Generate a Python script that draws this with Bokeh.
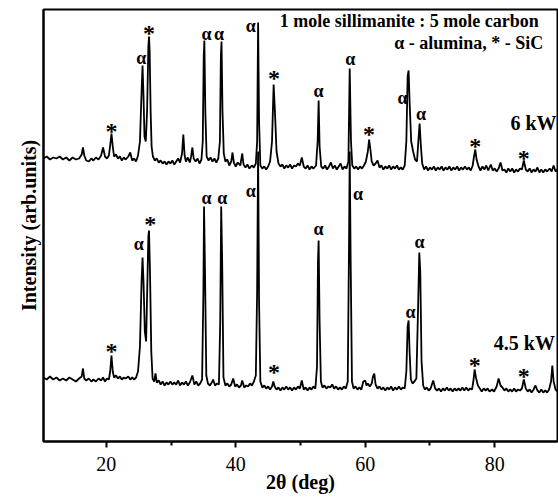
from bokeh.plotting import figure
from bokeh.models import Range1d, FixedTicker, Label, ColumnDataSource
from bokeh.core.properties import value
from bokeh.embed import file_html
from bokeh.resources import INLINE

# ---- data: (2theta deg, intensity arb. units) ----
trace_6kw = [
    (10.3, 283), (10.8, 285), (11.3, 282), (11.8, 284), (12.3, 283), (12.8, 285), (13.3, 282),
    (13.8, 284), (14.3, 281), (14.8, 284), (15.3, 282), (15.8, 283), (16.2, 287), (16.4, 294),
    (16.6, 286), (16.9, 281), (17.3, 280), (17.7, 283), (18.0, 281), (18.4, 284), (18.8, 282),
    (19.2, 286), (19.5, 294), (19.8, 285), (20.1, 283), (20.4, 286), (20.6, 296), (20.8, 308),
    (21.0, 295), (21.2, 285), (21.5, 287), (21.8, 283), (22.1, 285), (22.4, 281), (22.7, 284),
    (23.0, 282), (23.4, 285), (23.7, 289), (24.0, 281), (24.3, 283), (24.6, 280), (24.9, 286),
    (25.2, 300), (25.45, 350), (25.6, 376), (25.75, 345), (25.9, 305), (26.1, 300), (26.3, 330),
    (26.5, 395), (26.6, 405), (26.7, 390), (26.85, 330), (27.0, 295), (27.2, 285), (27.5, 281),
    (27.8, 283), (28.1, 279), (28.4, 281), (28.7, 278), (29.0, 280), (29.3, 277), (29.6, 280),
    (29.9, 278), (30.2, 281), (30.5, 277), (30.8, 280), (31.1, 283), (31.4, 279), (31.7, 288),
    (31.9, 307), (32.1, 286), (32.3, 280), (32.6, 284), (32.9, 279), (33.1, 285), (33.3, 294),
    (33.5, 283), (33.8, 280), (34.1, 283), (34.4, 278), (34.7, 282), (34.9, 300), (35.05, 385),
    (35.15, 401), (35.3, 330), (35.5, 285), (35.8, 281), (36.1, 284), (36.4, 280), (36.7, 283),
    (37.0, 279), (37.3, 283), (37.55, 300), (37.7, 385), (37.8, 400), (37.95, 330), (38.15, 288),
    (38.4, 280), (38.7, 282), (39.0, 276), (39.3, 280), (39.5, 289), (39.7, 279), (40.0, 275),
    (40.3, 279), (40.7, 276), (41.0, 288), (41.2, 277), (41.5, 274), (41.8, 277), (42.1, 273),
    (42.5, 276), (42.8, 274), (43.1, 278), (43.3, 300), (43.45, 419), (43.6, 320), (43.8, 276),
    (44.1, 273), (44.4, 275), (44.7, 272), (45.0, 275), (45.3, 280), (45.6, 300), (45.85, 357),
    (46.05, 330), (46.3, 290), (46.6, 278), (46.9, 275), (47.2, 277), (47.5, 273), (47.8, 276),
    (48.1, 274), (48.4, 277), (48.7, 273), (49.0, 276), (49.3, 275), (49.6, 278), (49.9, 276),
    (50.2, 284), (50.5, 275), (50.8, 273), (51.1, 276), (51.4, 272), (51.7, 275), (52.0, 273),
    (52.4, 276), (52.65, 300), (52.8, 341), (52.95, 295), (53.2, 275), (53.5, 273), (53.8, 276),
    (54.1, 272), (54.4, 275), (54.7, 279), (55.0, 273), (55.3, 276), (55.6, 272), (55.9, 275),
    (56.2, 278), (56.5, 272), (56.8, 275), (57.1, 273), (57.4, 280), (57.6, 373), (57.8, 300),
    (58.0, 276), (58.3, 273), (58.6, 275), (58.9, 272), (59.2, 275), (59.5, 273), (59.8, 276),
    (60.1, 280), (60.4, 290), (60.6, 302), (60.8, 292), (61.0, 280), (61.3, 276), (61.6, 278),
    (61.9, 281), (62.2, 274), (62.5, 276), (62.8, 272), (63.1, 275), (63.4, 273), (63.7, 276),
    (64.0, 272), (64.3, 275), (64.6, 273), (64.9, 276), (65.2, 272), (65.5, 274), (65.8, 272),
    (66.1, 276), (66.35, 300), (66.55, 365), (66.7, 371), (66.85, 340), (67.1, 300), (67.4, 290),
    (67.7, 282), (68.0, 280), (68.2, 300), (68.4, 318), (68.6, 295), (68.8, 278), (69.1, 272),
    (69.4, 275), (69.7, 271), (70.0, 274), (70.3, 272), (70.6, 275), (70.9, 271), (71.2, 274),
    (71.5, 272), (71.8, 275), (72.1, 271), (72.4, 274), (72.7, 272), (73.0, 275), (73.3, 271),
    (73.6, 274), (73.9, 272), (74.2, 275), (74.5, 271), (74.8, 274), (75.1, 272), (75.4, 275),
    (75.7, 272), (76.0, 274), (76.3, 271), (76.6, 276), (76.8, 285), (77.0, 292), (77.2, 282),
    (77.5, 275), (77.8, 271), (78.1, 275), (78.4, 272), (78.7, 276), (79.0, 271), (79.4, 277),
    (79.7, 271), (80.0, 273), (80.3, 270), (80.6, 273), (80.9, 279), (81.2, 271), (81.5, 272),
    (81.8, 269), (82.1, 273), (82.4, 270), (82.7, 273), (83.0, 269), (83.3, 272), (83.6, 270),
    (83.9, 273), (84.2, 272), (84.5, 281), (84.8, 272), (85.1, 270), (85.4, 273), (85.7, 269),
    (86.0, 272), (86.3, 270), (86.6, 274), (86.9, 269), (87.2, 272), (87.5, 269), (87.8, 272),
    (88.1, 270), (88.5, 273), (88.8, 270), (89.1, 276), (89.4, 270), (89.7, 272),
]

trace_45kw = [
    (10.3, 64), (10.8, 62), (11.3, 65), (11.8, 62), (12.3, 64), (12.8, 61), (13.3, 63),
    (13.8, 61), (14.3, 64), (14.8, 62), (15.3, 60), (15.8, 63), (16.2, 65), (16.4, 73),
    (16.6, 63), (16.9, 61), (17.3, 63), (17.7, 60), (18.0, 62), (18.4, 60), (18.8, 63),
    (19.2, 61), (19.5, 64), (19.8, 60), (20.1, 63), (20.4, 62), (20.6, 70), (20.8, 86),
    (21.0, 70), (21.2, 64), (21.5, 66), (21.8, 63), (22.1, 65), (22.4, 62), (22.7, 64),
    (23.0, 63), (23.4, 65), (23.7, 62), (24.0, 64), (24.3, 62), (24.6, 64), (24.9, 70),
    (25.2, 95), (25.45, 160), (25.6, 184), (25.75, 160), (25.95, 110), (26.15, 100), (26.35, 160),
    (26.5, 205), (26.6, 211), (26.75, 170), (26.95, 90), (27.15, 63), (27.4, 60), (27.6, 68),
    (27.8, 59), (28.1, 61), (28.4, 57), (28.7, 60), (29.0, 56), (29.3, 59), (29.6, 57),
    (29.9, 60), (30.2, 57), (30.5, 59), (30.8, 57), (31.1, 61), (31.4, 56), (31.7, 59),
    (32.0, 57), (32.3, 60), (32.6, 56), (32.9, 59), (33.3, 66), (33.6, 57), (33.9, 60),
    (34.2, 56), (34.5, 58), (34.8, 62), (35.0, 150), (35.1, 235), (35.25, 170), (35.45, 66),
    (35.7, 58), (36.0, 56), (36.3, 59), (36.5, 62), (36.8, 56), (37.1, 58), (37.4, 57),
    (37.6, 120), (37.75, 235), (37.9, 180), (38.1, 64), (38.4, 56), (38.7, 58), (39.0, 55),
    (39.3, 57), (39.6, 63), (39.9, 55), (40.2, 57), (40.5, 54), (40.8, 56), (41.0, 61),
    (41.3, 54), (41.6, 56), (41.9, 55), (42.2, 58), (42.5, 56), (42.8, 60), (43.1, 66),
    (43.3, 150), (43.45, 290), (43.6, 140), (43.8, 60), (44.1, 54), (44.4, 56), (44.7, 53),
    (45.0, 55), (45.3, 52), (45.6, 55), (45.8, 60), (46.0, 55), (46.3, 52), (46.6, 54),
    (46.9, 51), (47.2, 54), (47.5, 52), (47.8, 55), (48.1, 52), (48.4, 54), (48.7, 51),
    (49.0, 54), (49.3, 52), (49.6, 55), (49.9, 53), (50.2, 61), (50.5, 52), (50.8, 54),
    (51.1, 51), (51.4, 54), (51.7, 52), (52.0, 55), (52.3, 53), (52.55, 75), (52.7, 180),
    (52.8, 201), (52.95, 120), (53.15, 60), (53.4, 54), (53.7, 56), (54.0, 53), (54.3, 55),
    (54.6, 54), (54.9, 57), (55.2, 53), (55.5, 55), (55.8, 52), (56.1, 54), (56.4, 52),
    (56.7, 55), (57.0, 53), (57.3, 60), (57.5, 200), (57.6, 290), (57.75, 180), (57.95, 60),
    (58.2, 53), (58.5, 55), (58.8, 52), (59.1, 54), (59.4, 52), (59.7, 60), (60.0, 61),
    (60.2, 56), (60.4, 58), (60.7, 55), (61.0, 58), (61.2, 65), (61.4, 68), (61.6, 57),
    (61.9, 53), (62.2, 55), (62.5, 52), (62.8, 54), (63.1, 51), (63.4, 54), (63.7, 52),
    (64.0, 55), (64.3, 51), (64.6, 54), (64.9, 52), (65.2, 55), (65.5, 52), (65.8, 54),
    (66.1, 53), (66.35, 70), (66.55, 115), (66.7, 121), (66.85, 90), (67.05, 62), (67.3, 58),
    (67.6, 60), (67.9, 63), (68.15, 130), (68.35, 189), (68.5, 170), (68.7, 80), (68.95, 56),
    (69.2, 52), (69.5, 54), (69.8, 51), (70.1, 53), (70.5, 61), (70.8, 53), (71.1, 51),
    (71.4, 53), (71.7, 50), (72.0, 53), (72.3, 51), (72.6, 54), (72.9, 51), (73.2, 53),
    (73.5, 50), (73.8, 53), (74.1, 51), (74.4, 53), (74.7, 51), (75.0, 54), (75.3, 51),
    (75.6, 54), (75.9, 51), (76.2, 53), (76.5, 52), (76.7, 60), (76.9, 72), (77.1, 64),
    (77.4, 56), (77.7, 53), (78.0, 50), (78.3, 53), (78.6, 51), (78.9, 53), (79.2, 50),
    (79.6, 52), (79.9, 50), (80.3, 55), (80.6, 63), (80.9, 56), (81.2, 54), (81.5, 51),
    (81.8, 53), (82.1, 50), (82.4, 52), (82.7, 50), (83.0, 53), (83.3, 50), (83.6, 52),
    (83.9, 51), (84.2, 53), (84.5, 62), (84.8, 53), (85.1, 50), (85.4, 52), (85.7, 49),
    (86.0, 52), (86.3, 56), (86.6, 51), (86.9, 49), (87.2, 52), (87.5, 49), (87.8, 51),
    (88.1, 49), (88.4, 52), (88.7, 60), (88.9, 76), (89.1, 60), (89.4, 52), (89.7, 50),
]

# phase markers: (2theta, intensity, symbol)
marks_6kw = [
    (20.8, 316, "*"), (25.4, 384, "α"), (26.6, 414, "*"), (35.5, 408, "α"), (37.4, 408, "α"),
    (42.3, 416, "α"), (45.9, 369, "*"), (52.8, 351, "α"), (57.7, 383, "α"), (60.6, 313, "*"),
    (65.75, 344, "α"), (68.6, 328, "α"), (77.0, 301, "*"), (84.5, 289, "*"),
]
marks_45kw = [
    (20.8, 96, "*"), (25.0, 198, "α"), (26.8, 223, "*"), (35.5, 244, "α"), (37.9, 244, "α"),
    (42.3, 251, "α"), (45.9, 75, "*"), (52.8, 213, "α"), (58.9, 248, "α"), (67.0, 130, "α"),
    (68.4, 200, "α"), (76.9, 82, "*"), (84.5, 71, "*"),
]

x_ticks = [20, 40, 60, 80]
x_minor = [30, 50, 70]
x_title = "2θ (deg)"
y_title = "Intensity (arb.units)"
note_line1 = "1 mole sillimanite : 5 mole carbon"
note_line2 = "α - alumina, * - SiC"
series_names = ["6 kW", "4.5 kW"]

FONT_NAME = "Liberation Serif"
FONT = value(FONT_NAME)

p = figure(width=558, height=499, x_range=Range1d(10.3, 89.7), y_range=Range1d(0, 432),
           output_backend="svg", toolbar_location=None,
           min_border_left=43, min_border_right=1, min_border_top=9, min_border_bottom=58)
p.background_fill_color = "white"
p.border_fill_color = "white"
p.xgrid.visible = False
p.ygrid.visible = False
p.outline_line_color = "black"
p.outline_line_width = 2

for tr in (trace_6kw, trace_45kw):
    xs = [a for a, b in tr]
    ys = [b for a, b in tr]
    p.line(xs, ys, line_color="black", line_width=1.8)


def add_marks(marks):
    a = [m for m in marks if m[2] == "α"]
    s = [m for m in marks if m[2] == "*"]
    src_a = ColumnDataSource(dict(x=[m[0] for m in a], y=[m[1] for m in a], t=[m[2] for m in a]))
    src_s = ColumnDataSource(dict(x=[m[0] for m in s], y=[m[1] for m in s], t=[m[2] for m in s]))
    p.text(x="x", y="y", text="t", source=src_a, text_font=FONT, text_font_style="bold",
           text_font_size="18px", text_align="center", text_baseline="middle", text_color="black")
    p.text(x="x", y="y", text="t", source=src_s, text_font=FONT, text_font_style="bold",
           text_font_size="24px", text_align="center", text_baseline="middle", text_color="black",
           y_offset=5)


add_marks(marks_6kw)
add_marks(marks_45kw)


def label(x, y, text, size):
    p.add_layout(Label(x=x, y=y, text=text, text_font=FONT_NAME, text_font_style="bold",
                       text_font_size=size, text_align="right",
                       text_baseline="middle", text_color="black"))


label(86.8, 421, note_line1, "18px")
label(87.5, 399, note_line2, "18px")
label(89.55, 319, series_names[0], "20px")
label(89.3, 99, series_names[1], "20px")

# x axis (ticks point outward)
xa = p.xaxis[0]
xa.ticker = FixedTicker(ticks=x_ticks, minor_ticks=x_minor)
xa.axis_line_width = 2
xa.major_tick_in = 0
xa.major_tick_out = 6
xa.minor_tick_in = 0
xa.minor_tick_out = 4
xa.major_tick_line_width = 2
xa.minor_tick_line_width = 2
xa.major_label_text_font = FONT_NAME
xa.major_label_text_font_size = "20px"
xa.major_label_text_color = "black"
xa.major_label_standoff = 9
xa.axis_label = x_title
xa.axis_label_text_font = FONT_NAME
xa.axis_label_text_font_style = "bold"
xa.axis_label_text_font_size = "20px"
xa.axis_label_text_color = "black"
xa.axis_label_standoff = -3

# y axis
ya = p.yaxis[0]
ya.ticker = FixedTicker(ticks=[])
ya.axis_line_width = 2
ya.major_tick_in = 0
ya.major_tick_out = 0
ya.minor_tick_in = 0
ya.minor_tick_out = 0
ya.axis_label = y_title
ya.axis_label_text_font = FONT_NAME
ya.axis_label_text_font_style = "bold"
ya.axis_label_text_font_size = "20px"
ya.axis_label_text_color = "black"
ya.axis_label_standoff = 4

open("out.html", "w").write(file_html(p, INLINE))
